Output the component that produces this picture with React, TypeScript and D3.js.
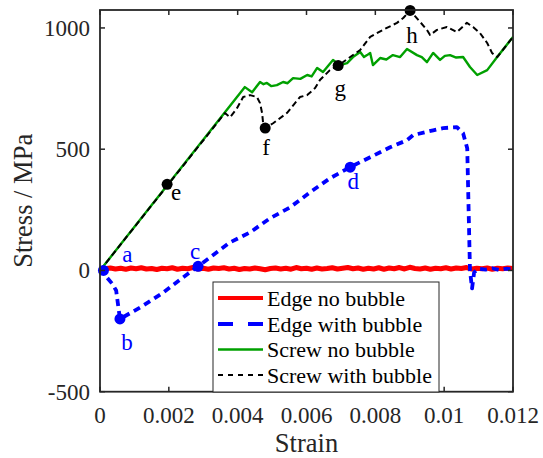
import React from "react";
import * as d3 from "d3";

type Pt = [number, number];

// ---- data (strain, stress MPa) ----
const edgeNoBubble: Pt[] = [
  [0, 0], [0.00015, 7], [0.0003, 10], [0.00045, 6], [0.0006, 9], [0.00075, 5], [0.0009, 10],
  [0.00105, 7], [0.0012, 11], [0.00135, 6], [0.0015, 8], [0.00165, 4], [0.0018, 9], [0.00195, 7],
  [0.0021, 11], [0.00225, 5], [0.0024, 9], [0.00255, 7], [0.0027, 12], [0.00285, 6], [0.003, 9],
  [0.00315, 5], [0.0033, 10], [0.00345, 8], [0.0036, 11], [0.00375, 6], [0.0039, 9], [0.00405, 4],
  [0.0042, 8], [0.00435, 6], [0.0045, 10], [0.00465, 7], [0.0048, 3], [0.00495, 8], [0.0051, 10],
  [0.00525, 6], [0.0054, 9], [0.00555, 5], [0.0057, 12], [0.00585, 7], [0.006, 9], [0.00615, 5],
  [0.0063, 10], [0.00645, 6], [0.0066, 8], [0.00675, 11], [0.0069, 6], [0.00705, 9], [0.0072, 12],
  [0.00735, 7], [0.0075, 10], [0.00765, 5], [0.0078, 9], [0.00795, 6], [0.0081, 11], [0.00825, 5],
  [0.0084, 10], [0.00855, 7], [0.0087, 12], [0.00885, 6], [0.009, 13], [0.00915, 8], [0.0093, 6],
  [0.00945, 10], [0.0096, 5], [0.00975, 9], [0.0099, 7], [0.01005, 11], [0.0102, 6], [0.01035, 10],
  [0.0105, 8], [0.01065, 12], [0.0108, 6], [0.01095, 9], [0.0111, 7], [0.01125, 10], [0.0114, 5],
  [0.01155, 9], [0.0117, 7], [0.01185, 10], [0.012, 8],
];

const edgeWithBubble: Pt[] = [
  [0, 0], [0.0001, 0], [0.0002, -29], [0.00035, -54], [0.00047, -83], [0.0005, -116],
  [0.00058, -200], [0.0012, -150], [0.0018, -95], [0.0024, -30], [0.00285, 17],
  [0.00378, 116], [0.00436, 157], [0.00494, 215], [0.00552, 260], [0.0061, 322],
  [0.00668, 380], [0.00727, 426], [0.00785, 467], [0.00843, 508], [0.00892, 537],
  [0.0091, 558], [0.00968, 578], [0.00997, 587], [0.01037, 591], [0.01055, 566],
  [0.01067, 504], [0.01075, 0], [0.01081, -74], [0.01087, -8], [0.011, 8], [0.0112, 3],
  [0.0114, 9], [0.0116, 2], [0.0118, 7], [0.012, 4],
];

const screwNoBubble: Pt[] = [
  [0, 0], [0.00421, 756], [0.00442, 735], [0.00465, 777], [0.00475, 768], [0.00485, 773],
  [0.00498, 760], [0.00514, 764], [0.00532, 777], [0.00545, 772], [0.00561, 793],
  [0.00582, 790], [0.00602, 806], [0.00615, 800], [0.00631, 835], [0.00648, 818],
  [0.00677, 868], [0.00697, 847], [0.00718, 855], [0.00735, 880], [0.00756, 901],
  [0.00767, 880], [0.00776, 888], [0.00785, 897], [0.00793, 847], [0.00814, 876],
  [0.00832, 870], [0.00851, 888], [0.00872, 880], [0.00892, 913], [0.00921, 888],
  [0.00935, 880], [0.0095, 859], [0.00968, 897], [0.00988, 868], [0.01002, 885],
  [0.01017, 888], [0.01035, 878], [0.01055, 880], [0.01075, 839], [0.01096, 806],
  [0.01125, 826], [0.01154, 880], [0.012, 963],
];

const screwWithBubble: Pt[] = [
  [0, 0], [0.00363, 649], [0.00378, 632], [0.00398, 669], [0.00416, 715], [0.00436, 723],
  [0.00456, 715], [0.00465, 690], [0.00471, 649], [0.00474, 607], [0.0048, 587],
  [0.00503, 607], [0.00543, 649], [0.00581, 715], [0.00602, 723], [0.00625, 752],
  [0.00639, 785], [0.00668, 826], [0.00692, 845], [0.00727, 880], [0.00756, 909],
  [0.00785, 963], [0.00822, 992], [0.00863, 1021], [0.00881, 1041], [0.00901, 1072],
  [0.0093, 1025], [0.0095, 992], [0.00959, 971], [0.00979, 992], [0.01008, 1004],
  [0.01037, 983], [0.01066, 1021], [0.01084, 1004], [0.01104, 979], [0.01125, 938],
  [0.01139, 897], [0.01154, 880], [0.012, 963],
];

const edgePointLabels = ["a", "b", "c", "d"];
const edgePoints: Pt[] = [[0.0001, 0], [0.00058, -200], [0.00285, 17], [0.00727, 426]];
const screwPointLabels = ["e", "f", "g", "h"];
const screwPoints: Pt[] = [[0.00195, 355], [0.0048, 587], [0.00692, 845], [0.00901, 1072]];

const xTicks = [0, 0.002, 0.004, 0.006, 0.008, 0.01, 0.012];
const xTickLabels = ["0", "0.002", "0.004", "0.006", "0.008", "0.01", "0.012"];
const yTicks = [-500, 0, 500, 1000];
const yTickLabels = ["-500", "0", "500", "1000"];
const seriesNames = ["Edge no bubble", "Edge with bubble", "Screw no bubble", "Screw with bubble"];

// ---- layout ----
const W = 543, H = 458;
const L = 100, R = 513, T = 10, B = 391.7;
const AX = "#262626";
const FONT = "Liberation Serif, DejaVu Serif, serif";
const labelOffsets: Record<string, [number, number]> = {
  a: [24, -8], b: [7, 31], c: [-3, -7], d: [3, 22],
  e: [9, 16], f: [1, 27], g: [2, 30], h: [2, 33],
};
const tf = { fontFamily: FONT };

export default function App() {
  const x = d3.scaleLinear().domain([0, 0.012]).range([L, R]);
  const y = d3.scaleLinear().domain([-500, 1074]).range([B, T]);
  const line = d3.line<Pt>().x((d) => x(d[0])).y((d) => y(d[1]));

  const styles = [
    { color: "#ff0000", width: 5, dash: undefined as string | undefined, legendDash: undefined as string | undefined },
    { color: "#0000ff", width: 3.8, dash: "7,5", legendDash: "15,15" },
    { color: "#00a000", width: 2.4, dash: undefined, legendDash: undefined },
    { color: "#000000", width: 2, dash: "6,3.5", legendDash: "5,5" },
  ];
  const data = [edgeNoBubble, edgeWithBubble, screwNoBubble, screwWithBubble];
  const drawOrder = [0, 2, 3, 1];

  const legendX = 213, legendY = 282, legendW = 226, legendH = 110;
  const rowY = [298, 324, 349.5, 375];

  return (
    <svg width={W} height={H} style={{ position: "absolute", left: 0, top: 0, background: "#fff" }}>
      <rect x={0} y={0} width={W} height={H} fill="#fff" />
      <defs>
        <clipPath id="plotclip">
          <rect x={L} y={T} width={R - L} height={B - T} />
        </clipPath>
      </defs>
      <g clipPath="url(#plotclip)">
        {drawOrder.map((i) => (
          <path key={i} d={line(data[i]) || ""} fill="none" stroke={styles[i].color}
            strokeWidth={styles[i].width} strokeDasharray={styles[i].dash}
            strokeLinejoin="round" strokeLinecap={i === 0 ? "round" : "butt"} />
        ))}
      </g>
      {/* markers */}
      {edgePoints.map((p, i) => {
        const lab = edgePointLabels[i];
        const o = labelOffsets[lab];
        return (
          <g key={lab}>
            <circle cx={x(p[0])} cy={y(p[1])} r={5.5} fill="#0000ff" />
            <text x={x(p[0]) + o[0]} y={y(p[1]) + o[1]} fill="#0000ff" fontSize={23} textAnchor="middle" style={tf}>{lab}</text>
          </g>
        );
      })}
      {screwPoints.map((p, i) => {
        const lab = screwPointLabels[i];
        const o = labelOffsets[lab];
        return (
          <g key={lab}>
            <circle cx={x(p[0])} cy={y(p[1])} r={5.5} fill="#000" />
            <text x={x(p[0]) + o[0]} y={y(p[1]) + o[1]} fill="#000" fontSize={23} textAnchor="middle" style={tf}>{lab}</text>
          </g>
        );
      })}
      {/* axes box */}
      <rect x={L} y={T} width={R - L} height={B - T} fill="none" stroke={AX} strokeWidth={1.8} />
      {xTicks.map((t, i) => (
        <g key={"x" + i}>
          <line x1={x(t)} x2={x(t)} y1={B} y2={B - 5} stroke={AX} strokeWidth={1.5} />
          <line x1={x(t)} x2={x(t)} y1={T} y2={T + 5} stroke={AX} strokeWidth={1.5} />
          <text x={x(t)} y={423} fontSize={23} textAnchor="middle" fill={AX} style={tf}>{xTickLabels[i]}</text>
        </g>
      ))}
      {yTicks.map((t, i) => (
        <g key={"y" + i}>
          <line x1={L} x2={L + 5} y1={y(t)} y2={y(t)} stroke={AX} strokeWidth={1.5} />
          <line x1={R} x2={R - 5} y1={y(t)} y2={y(t)} stroke={AX} strokeWidth={1.5} />
          <text x={90} y={y(t) + 8} fontSize={23} textAnchor="end" fill={AX} style={tf}>{yTickLabels[i]}</text>
        </g>
      ))}
      <text x={(L + R) / 2} y={452} fontSize={26.5} textAnchor="middle" fill={AX} style={tf}>Strain</text>
      <text transform={`translate(32, ${(T + B) / 2}) rotate(-90)`} fontSize={26.5} textAnchor="middle" fill={AX} style={tf}>Stress / MPa</text>
      {/* legend */}
      <rect x={legendX} y={legendY} width={legendW} height={legendH} fill="#fff" stroke={AX} strokeWidth={1} />
      {seriesNames.map((n, i) => (
        <g key={n}>
          <line x1={218} x2={263} y1={rowY[i]} y2={rowY[i]} stroke={styles[i].color}
            strokeWidth={i === 0 ? 4 : styles[i].width} strokeDasharray={styles[i].legendDash} />
          <text x={267} y={rowY[i] + 7.5} fontSize={22} fill="#000" style={tf}>{n}</text>
        </g>
      ))}
    </svg>
  );
}
